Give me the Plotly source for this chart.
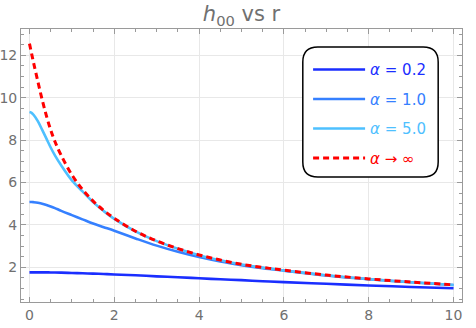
import plotly.graph_objects as go

# Sample radii (shared by all curves).
r = [0, 0.05, 0.1, 0.2, 0.3, 0.4, 0.5, 0.6, 0.75, 1.0, 1.25, 1.5, 1.75, 2.0,
     2.5, 3.0, 3.5, 4.0, 4.5, 5.0, 5.5, 6.0, 7.0, 8.0, 9.0, 10.0]

# h00.
h_a02 = [1.76, 1.76, 1.76, 1.76, 1.758, 1.757, 1.755, 1.752, 1.745, 1.73, 1.715, 1.70, 1.68, 1.66,
         1.62, 1.57, 1.53, 1.48, 1.43, 1.39, 1.34, 1.30, 1.22, 1.14, 1.07, 1.01]
h_a10 = [5.08, 5.08, 5.07, 5.04, 5.00, 4.94, 4.87, 4.79, 4.66, 4.46, 4.26, 4.06, 3.89, 3.72,
         3.36, 3.02, 2.73, 2.48, 2.27, 2.10, 1.96, 1.84, 1.61, 1.43, 1.29, 1.16]
h_a50 = [9.32, 9.28, 9.18, 8.88, 8.48, 8.07, 7.65, 7.28, 6.80, 6.10, 5.58, 5.07, 4.65, 4.28,
         3.69, 3.23, 2.87, 2.57, 2.33, 2.13, 1.98, 1.85, 1.62, 1.44, 1.29, 1.16]
h_inf = [12.55, 12.08, 11.62, 10.74, 9.90, 9.14, 8.48, 7.93, 7.27, 6.36, 5.67, 5.12, 4.68, 4.31,
         3.70, 3.24, 2.88, 2.58, 2.34, 2.14, 1.99, 1.86, 1.63, 1.45, 1.30, 1.17]

series = [
    ("α = 0.2", h_a02, "#1a2eff", "solid"),
    ("α = 1.0", h_a10, "#3580ff", "solid"),
    ("α = 5.0", h_a50, "#4ec0ff", "solid"),
    ("α → ∞", h_inf, "#ff0000", "6px,4px"),
]

fig = go.Figure()
for i, (name, ys, color, dash) in enumerate(series):
    label = "<span style='color:%s'><i>α</i>%s</span>" % (color, name[1:])
    fig.add_trace(go.Scatter(
        x=r, y=ys, mode="lines", name=label, legendgroup=str(i),
        line=dict(color=color, width=2.6 if dash == "solid" else 3, dash=dash, shape="spline", smoothing=1),
    ))

axis_common = dict(
    showline=True, linecolor="#9a9a9a", linewidth=1, mirror="allticks",
    ticks="inside", ticklen=5, tickcolor="#9a9a9a", tickwidth=1,
    showgrid=True, gridcolor="#e8e8e8", gridwidth=1, zeroline=False, automargin=False,
    tickfont=dict(family="DejaVu Sans", size=14, color="#707070"),
    minor=dict(ticks="inside", ticklen=3, tickcolor="#9a9a9a", dtick=0.5, showgrid=False),
)
fig.update_xaxes(range=[-0.2, 10.2], dtick=2, **axis_common)
fig.update_yaxes(range=[0.36, 13.24], dtick=2, tick0=0, **axis_common)

# Rounded legend frame (paper coordinates).
x0, x1, y0, y1 = 0.639, 0.946, 0.458, 0.934
rx, ry = 0.034, 0.055
path = ("M %f,%f L %f,%f Q %f,%f %f,%f L %f,%f Q %f,%f %f,%f L %f,%f Q %f,%f %f,%f L %f,%f Q %f,%f %f,%f Z"
        % (x0 + rx, y1, x1 - rx, y1, x1, y1, x1, y1 - ry, x1, y0 + ry, x1, y0, x1 - rx, y0,
           x0 + rx, y0, x0, y0, x0, y0 + ry, x0, y1 - ry, x0, y1, x0 + rx, y1))
fig.add_shape(type="path", path=path, xref="paper", yref="paper",
              line=dict(color="black", width=1.5), fillcolor="white", layer="above")

fig.update_layout(
    width=476, height=328,
    margin=dict(l=21, r=14, t=29, b=26),
    paper_bgcolor="white", plot_bgcolor="white",
    title=dict(text="<i>h</i><sub>00</sub> vs r", x=0.5, xref="paper", xanchor="center",
               y=0.98, yanchor="top",
               font=dict(family="DejaVu Sans", size=21, color="#707070")),
    legend=dict(x=0.651, y=0.911, xanchor="left", yanchor="top", bgcolor="rgba(0,0,0,0)",
                borderwidth=0, itemwidth=52, tracegroupgap=7, traceorder="grouped",
                font=dict(family="DejaVu Sans", size=15)),
    showlegend=True,
)

# Drop the page's default body margin so the figure sits at the window's corner.
fig.write_html("out.html", config={"displayModeBar": False},
               post_script="document.body.style.margin='0px';")
